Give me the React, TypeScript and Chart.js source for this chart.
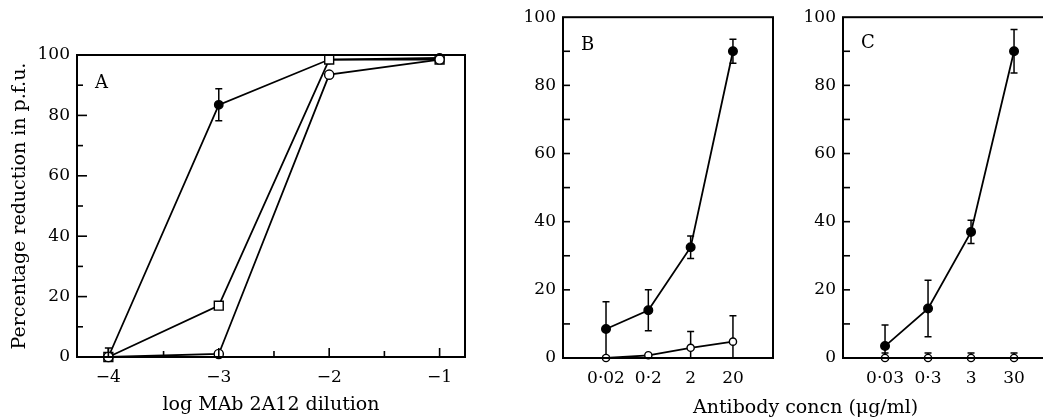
import React, { useEffect, useRef } from 'react';
import { Chart, registerables } from 'chart.js';
Chart.register(...registerables);

// ---------- Panel A : log MAb 2A12 dilution ----------
const dilutionLog = [-4, -3, -2, -1];
const dilutionLabels = ['−4', '−3', '−2', '−1'];
const dilutionMinorTicks = [-3.5, -2.5, -1.5];
const aFilled = [0, 83.5, 98.5, 99];
const aFilledErr = [3, 5.3, 0, 0];
const aSquare = [0, 17, 98.5, 98.5];
const aOpen = [0, 1, 93.5, 98.5];

// ---------- Panel B ----------
const concB = [0.02, 0.2, 2, 20];
const concBLabels = ['0·02', '0·2', '2', '20'];
const bFilled = [8.5, 14, 32.5, 90];
const bFilledErr = [8, 6, 3.3, 3.5];
const bOpen = [0, 0.8, 3, 4.8];
const bOpenErr = [0, 0, 4.8, 7.6];

// ---------- Panel C ----------
const concC = [0.03, 0.3, 3, 30];
const concCLabels = ['0·03', '0·3', '3', '30'];
const cFilled = [3.5, 14.5, 37, 90];
const cFilledErr = [6.2, 8.3, 3.4, 6.4];
const cOpen = [0, 0, 0, 0];
const cOpenErr = [1.5, 1.5, 1.5, 1.5];

const yTickValues = [0, 10, 20, 30, 40, 50, 60, 70, 80, 90, 100];
const yTickLabels = ['0', '20', '40', '60', '80', '100'];

const FONT = "'DejaVu Serif', 'Liberation Serif', serif";

const framePlugin = {
  id: 'frameTicks',
  beforeDatasetsDraw(chart: any) {
    const { ctx, chartArea: a } = chart;
    const xs = chart.scales.x;
    const ys = chart.scales.y;
    ctx.save();
    ctx.beginPath();
    ctx.rect(a.left, a.top - 20, a.right - a.left, a.bottom - a.top + 20);
    ctx.clip();
    ctx.strokeStyle = '#000';
    ctx.lineWidth = 1.5;
    chart.data.datasets.forEach((ds: any) => {
      const errs = ds.errors;
      if (!errs) return;
      ds.data.forEach((p: any, i: number) => {
        const e = errs[i];
        if (!e) return;
        const x = xs.getPixelForValue(p.x);
        const yTop = ys.getPixelForValue(p.y + e);
        const yBot = ys.getPixelForValue(p.y - e);
        const c = 3.5;
        ctx.beginPath();
        ctx.moveTo(x, yTop);
        ctx.lineTo(x, yBot);
        ctx.moveTo(x - c, yTop);
        ctx.lineTo(x + c, yTop);
        ctx.moveTo(x - c, yBot);
        ctx.lineTo(x + c, yBot);
        ctx.stroke();
      });
    });
    ctx.restore();
  },
  afterDraw(chart: any, _args: any, opts: any) {
    const { ctx, chartArea: a } = chart;
    const xs = chart.scales.x;
    const ys = chart.scales.y;
    ctx.save();
    ctx.strokeStyle = '#000';
    ctx.lineWidth = 1.6;
    ys.ticks.forEach((t: any) => {
      if (t.value <= 0 || t.value >= 100) return;
      const len = t.value % 20 === 0 ? opts.yMajor : opts.yMinor;
      const y = ys.getPixelForValue(t.value);
      ctx.beginPath();
      ctx.moveTo(a.left, y);
      ctx.lineTo(a.left + len, y);
      ctx.stroke();
    });
    if (opts.xMajor) {
      const vals = [...(opts.xMajorVals || []), ...(opts.xMinorVals || [])];
      vals.forEach((v: number) => {
        const len = (opts.xMinorVals || []).includes(v) ? opts.xMinor : opts.xMajor;
        const x = xs.getPixelForValue(v);
        ctx.beginPath();
        ctx.moveTo(x, a.bottom);
        ctx.lineTo(x, a.bottom - len);
        ctx.stroke();
      });
    }
    ctx.lineWidth = 2;
    ctx.strokeRect(a.left, a.top, a.right - a.left, a.bottom - a.top);
    ctx.restore();
  },
};

function pts(xv: number[], yv: number[]) {
  return xv.map((x, i) => ({ x, y: yv[i] }));
}

function yAxis(width: number) {
  return {
    type: 'linear',
    min: 0,
    max: 100,
    afterFit: (s: any) => { s.width = width; },
    afterBuildTicks: (s: any) => { s.ticks = yTickValues.map((v) => ({ value: v })); },
    grid: { display: false, drawTicks: false },
    border: { display: false },
    ticks: {
      padding: 7,
      color: '#000',
      font: { family: FONT, size: 17 },
      callback: (v: number) => (yTickLabels.includes(String(v)) ? String(v) : ''),
    },
  };
}

function lineDs(data: any[], filled: boolean, radius: number, style: string, errors?: number[]) {
  return {
    data,
    errors,
    borderColor: '#000',
    borderWidth: 1.8,
    backgroundColor: filled ? '#000' : '#fff',
    pointBackgroundColor: filled ? '#000' : '#fff',
    pointBorderColor: '#000',
    pointBorderWidth: 1.4,
    pointRadius: radius,
    pointStyle: style,
    tension: 0,
    clip: false,
  };
}

function useChart(ref: any, cfg: any) {
  useEffect(() => {
    const chart = new Chart(ref.current, cfg);
    return () => chart.destroy();
  }, []);
}

function PanelA() {
  const ref = useRef<HTMLCanvasElement>(null);
  useChart(ref, {
    type: 'line',
    data: {
      datasets: [
        lineDs(pts(dilutionLog, aOpen), false, 4.6, 'circle'),
        lineDs(pts(dilutionLog, aSquare), false, 6.3, 'rect'),
        lineDs(pts(dilutionLog, aFilled), true, 4.2, 'circle', aFilledErr),
      ],
    },
    options: {
      animation: false,
      responsive: false,
      devicePixelRatio: 1,
      layout: { padding: { top: 55, right: 15, left: 0, bottom: 0 } },
      plugins: {
        legend: { display: false },
        tooltip: { enabled: false },
        frameTicks: { yMajor: 10, yMinor: 6, xMajor: 9, xMinor: 6, xMajorVals: dilutionLog, xMinorVals: dilutionMinorTicks },
      },
      scales: {
        x: {
          type: 'linear',
          min: -4.284,
          max: -0.77,
          afterFit: (s: any) => { s.height = 62; },
          afterBuildTicks: (s: any) => { s.ticks = dilutionLog.map((v) => ({ value: v })); },
          grid: { display: false, drawTicks: false },
          border: { display: false },
          ticks: {
            padding: 10,
            color: '#000',
            maxRotation: 0,
            font: { family: FONT, size: 17 },
            callback: (v: number) => dilutionLabels[dilutionLog.indexOf(v)] ?? '',
          },
          title: {
            display: true,
            text: 'log MAb 2A12 dilution',
            color: '#000',
            font: { family: FONT, size: 19 },
            padding: { top: 0, bottom: 3 },
          },
        },
        y: {
          ...yAxis(77),
          title: {
            display: true,
            text: 'Percentage reduction in p.f.u.',
            color: '#000',
            font: { family: FONT, size: 19 },
            padding: { top: 9, bottom: 9 },
          },
        },
      },
    },
    plugins: [framePlugin],
  });
  return <canvas ref={ref} width={480} height={419} style={{ position: 'absolute', left: 0, top: 0 }} />;
}

function PanelLog(props: any) {
  const ref = useRef<HTMLCanvasElement>(null);
  const { conc, labels, filled, filledErr, open, openErr, min, max, left, padTop, padRight } = props;
  useChart(ref, {
    type: 'line',
    data: {
      datasets: [
        lineDs(pts(conc, open), false, 3.6, 'circle', openErr),
        lineDs(pts(conc, filled), true, 4.3, 'circle', filledErr),
      ],
    },
    options: {
      animation: false,
      responsive: false,
      devicePixelRatio: 1,
      layout: { padding: { top: padTop, right: padRight, left: 0, bottom: 0 } },
      plugins: {
        legend: { display: false },
        tooltip: { enabled: false },
        frameTicks: { yMajor: 7, yMinor: 7, xMajor: 0 },
      },
      scales: {
        x: {
          type: 'logarithmic',
          min,
          max,
          afterFit: (s: any) => { s.height = 61; },
          afterBuildTicks: (s: any) => { s.ticks = conc.map((v: number) => ({ value: v })); },
          grid: { display: false, drawTicks: false },
          border: { display: false },
          ticks: {
            padding: 10,
            color: '#000',
            maxRotation: 0,
            autoSkip: false,
            font: { family: FONT, size: 17 },
            callback: (_v: number, i: number) => labels[i],
          },
        },
        y: yAxis(73),
      },
    },
    plugins: [framePlugin],
  });
  return <canvas ref={ref} width={300} height={419} style={{ position: 'absolute', left, top: 0 }} />;
}

const letterStyle: any = {
  position: 'absolute',
  fontFamily: FONT,
  fontSize: 18,
  lineHeight: '18px',
  color: '#000',
};

export default function App() {
  return (
    <div style={{ position: 'absolute', left: 0, top: 0, width: 1043, height: 419, overflow: 'hidden', background: '#fff' }}>
      <PanelA />
      <PanelLog conc={concB} labels={concBLabels} filled={bFilled} filledErr={bFilledErr} open={bOpen} openErr={bOpenErr}
        min={0.001925} max={176.8} left={490} padTop={16} padRight={17} />
      <PanelLog conc={concC} labels={concCLabels} filled={cFilled} filledErr={cFilledErr} open={cOpen} openErr={cOpenErr}
        min={0.00316} max={269} left={770} padTop={17} padRight={15} />
      <div style={{ ...letterStyle, left: 95, top: 73 }}>A</div>
      <div style={{ ...letterStyle, left: 581, top: 35 }}>B</div>
      <div style={{ ...letterStyle, left: 861, top: 33 }}>C</div>
      <div style={{ position: 'absolute', left: 693, top: 395, fontFamily: FONT, fontSize: 19, lineHeight: '22px', color: '#000', whiteSpace: 'nowrap' }}>
        Antibody concn (μg/ml)
      </div>
    </div>
  );
}
